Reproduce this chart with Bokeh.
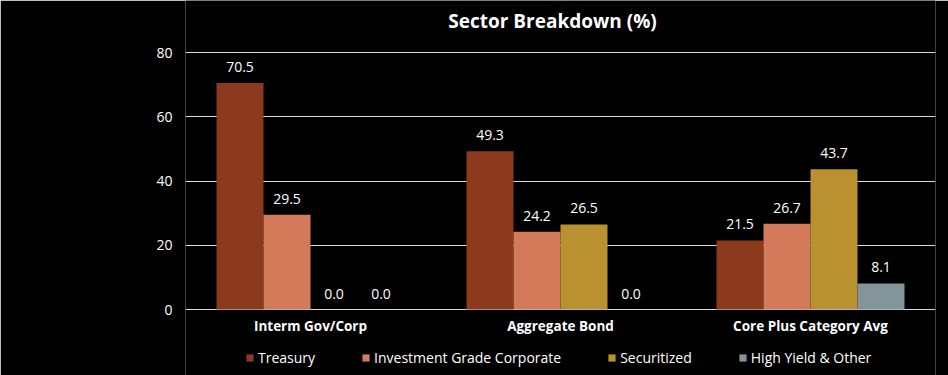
from bokeh.plotting import figure
from bokeh.models import ColumnDataSource, FactorRange, Legend, LegendItem, Label, LabelSet
from bokeh.core.properties import value
from bokeh.transform import dodge
from bokeh.embed import file_html
from bokeh.resources import INLINE

categories = ["Interm Gov/Corp", "Aggregate Bond", "Core Plus Category Avg"]
series = ["Treasury", "Investment Grade Corporate", "Securitized", "High Yield & Other"]
treasury = [70.5, 49.3, 21.5]
ig_corp = [29.5, 24.2, 26.7]
securitized = [0.0, 26.5, 43.7]
high_yield = [0.0, 0.0, 8.1]
colors = ["#8B3A1E", "#D37A5A", "#B99130", "#83959B"]
yticks = [0, 20, 40, 60, 80]

values = [treasury, ig_corp, securitized, high_yield]
data = {"cat": categories}
keys = ["s0", "s1", "s2", "s3"]
for k, v in zip(keys, values):
    data[k] = v
    data[k + "_lbl"] = ["%.1f" % x for x in v]
data["cat_y"] = [-5.0] * len(categories)
source = ColumnDataSource(data)

FONT = value("Open Sans")
p = figure(width=948, height=375, x_range=FactorRange(*categories), y_range=(-20.54, 96.19),
           output_backend="svg", toolbar_location=None,
           min_border_left=185, min_border_right=13, min_border_top=0, min_border_bottom=0)
p.background_fill_color = "black"
p.border_fill_color = "black"
p.outline_line_color = None
p.x_range.range_padding = 0
p.xaxis.visible = False

bw = 0.188
offsets = [-1.5 * bw, -0.5 * bw, 0.5 * bw, 1.5 * bw]
renderers = []
for k, off, c in zip(keys, offsets, colors):
    r = p.vbar(x=dodge("cat", off, range=p.x_range), top=k, width=bw, source=source,
               fill_color=c, line_color=None)
    renderers.append(r)
    lbl = LabelSet(x=dodge("cat", off, range=p.x_range), y=k, text=k + "_lbl", source=source,
                   text_align="center", text_baseline="bottom", y_offset=11,
                   text_color="white", text_font=FONT, text_font_size="14px")
    p.add_layout(lbl)

cat_lbl = LabelSet(x="cat", y="cat_y", text="cat", source=source, text_align="center",
                   text_baseline="middle", text_color="white", text_font=FONT,
                   text_font_style="bold", text_font_size="13.5px")
p.add_layout(cat_lbl)

p.xgrid.grid_line_color = None
p.ygrid.grid_line_color = "#d9d9d9"
p.ygrid.grid_line_width = 1
p.ygrid.ticker = yticks
p.yaxis.ticker = yticks
p.yaxis.axis_line_color = None
p.yaxis.major_tick_line_color = None
p.yaxis.minor_tick_line_color = None
p.yaxis.major_tick_out = 0
p.yaxis.major_label_text_color = "white"
p.yaxis.major_label_text_font = "Open Sans"
p.yaxis.major_label_text_font_size = "14px"
p.yaxis.major_label_standoff = 13

title = Label(x=1.468, y=89.96, text="Sector Breakdown (%)", text_align="center",
              text_baseline="middle", text_color="white", text_font="Open Sans",
              text_font_style="bold", text_font_size="19px")
p.add_layout(title)

legend = Legend(items=[LegendItem(label=s, renderers=[r]) for s, r in zip(series, renderers)],
                orientation="horizontal", location=(60, 8),
                background_fill_alpha=0, border_line_color=None,
                label_text_color="white", label_text_font="Open Sans", label_text_font_size="14px",
                glyph_width=9, glyph_height=9, label_standoff=4, spacing=46,
                padding=4, margin=0)
p.add_layout(legend)

open("out.html", "w").write(file_html(p, INLINE))
